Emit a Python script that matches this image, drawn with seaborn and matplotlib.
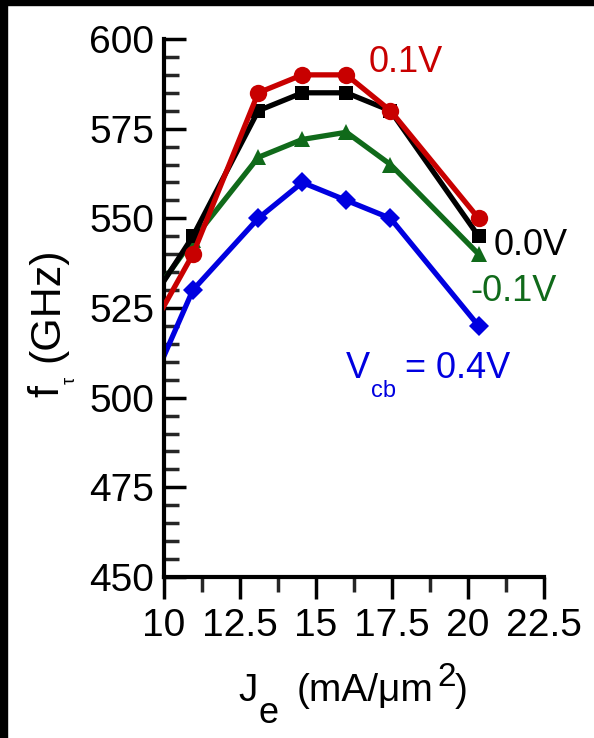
import matplotlib
matplotlib.use("Agg")
import matplotlib.pyplot as plt
import seaborn as sns
from matplotlib.ticker import MultipleLocator
from matplotlib.patches import Rectangle

# ---- data ----
je = [9.5, 10.95, 13.1, 14.55, 16.0, 17.45, 20.35]          # J_e (mA/um^2)
ft_p01 = [518, 540, 585, 590, 590, 580, 550]                 # Vcb = 0.1 V
ft_000 = [526, 545, 580, 585, 585, 580, 545]                 # Vcb = 0.0 V
ft_m01 = [527, 544, 567, 572, 574, 565, 540]                 # Vcb = -0.1 V
ft_p04 = [502, 530, 550, 560, 555, 550, 520]                 # Vcb = 0.4 V
series_names = ["0.1V", "0.0V", "-0.1V", "= 0.4V"]
xtick_vals = [10, 12.5, 15, 17.5, 20, 22.5]
xtick_labels = ["10", "12.5", "15", "17.5", "20", "22.5"]
ytick_vals = [450, 475, 500, 525, 550, 575, 600]
ytick_labels = ["450", "475", "500", "525", "550", "575", "600"]

sns.set_theme(style="white")
plt.rcParams["font.family"] = ["Liberation Sans", "DejaVu Sans"]

W, H = 594, 738
fig = plt.figure(figsize=(W / 100, H / 100), dpi=100, facecolor="white")
ax = fig.add_axes([164 / W, 1 - 577 / H, 380 / W, 538 / H])
ax.set_facecolor("white")


def P(x, y):
    """pixel position (from top-left) -> figure fraction"""
    return x / W, 1 - y / H


RED = "#C80000"
BLACK = "#000000"
GREEN = "#106A1A"
BLUE = "#0000E0"

specs = [
    (ft_p04, BLUE, "D", 10.5, 2),
    (ft_m01, GREEN, "^", 11.5, 3),
    (ft_000, BLACK, "s", 9.5, 4),
    (ft_p01, RED, "o", 12.5, 5),
]
for vals, col, mk, ms, z in specs:
    sns.lineplot(x=je, y=vals, ax=ax, color=col, marker=mk, markersize=ms,
                 markeredgewidth=0, linewidth=3.8, sort=False, legend=False,
                 zorder=z)

ax.set_xlim(10, 22.5)
ax.set_ylim(450, 600)
ax.set_xticks(xtick_vals)
ax.set_xticklabels(xtick_labels)
ax.set_yticks(ytick_vals)
ax.set_yticklabels(ytick_labels)
ax.xaxis.set_minor_locator(MultipleLocator(1.25))
ax.yaxis.set_minor_locator(MultipleLocator(5))

for s in ["top", "right"]:
    ax.spines[s].set_visible(False)
for s in ["left", "bottom"]:
    ax.spines[s].set_linewidth(3)
    ax.spines[s].set_color("black")

ax.tick_params(axis="y", which="major", direction="in", length=16, width=2.5,
               labelsize=28, pad=7, colors="black", left=True)
ax.tick_params(axis="y", which="minor", direction="in", length=11, width=2.5,
               left=True)
ax.tick_params(axis="x", which="major", direction="out", length=16, width=2.5,
               labelsize=28, pad=6, colors="black", bottom=True)
ax.tick_params(axis="x", which="minor", direction="out", length=11, width=2.5,
               bottom=True)
ax.grid(False)

# series annotations
fig.text(*P(369, 71.5), series_names[0], color=RED, fontsize=26, ha="left", va="baseline")
fig.text(*P(494, 255), series_names[1], color=BLACK, fontsize=26, ha="left", va="baseline")
fig.text(*P(470, 301.5), series_names[2], color=GREEN, fontsize=26, ha="left", va="baseline")
fig.text(*P(346, 378.5), "V", color=BLUE, fontsize=26, ha="left", va="baseline")
fig.text(*P(371, 397), "cb", color=BLUE, fontsize=17, ha="left", va="baseline")
fig.text(*P(405, 378.5), series_names[3], color=BLUE, fontsize=26, ha="left", va="baseline")

# x axis label  J_e (mA/um^2)
xl_fs = 28
fig.text(*P(238, 701), "J", fontsize=xl_fs, ha="left", va="baseline", color="black")
fig.text(*P(268, 723), "e", fontsize=xl_fs - 2, ha="center", va="baseline", color="black")
fig.text(*P(365, 701), "(mA/\u03bcm", fontsize=xl_fs, ha="center", va="baseline", color="black")
fig.text(*P(447, 686), "2", fontsize=xl_fs - 4, ha="center", va="baseline", color="black")
fig.text(*P(461, 701), ")", fontsize=xl_fs, ha="center", va="baseline", color="black")

# y axis label  f_tau (GHz)
fig.text(*P(58, 397), "f", fontsize=31, rotation=90, rotation_mode="anchor",
         ha="left", va="baseline", color="black")
fig.text(*P(75, 384), "\u03c4", fontsize=13, rotation=90, rotation_mode="anchor",
         ha="left", va="baseline", color="black")
fig.text(*P(58, 362), "(GHz)", fontsize=31, rotation=90, rotation_mode="anchor",
         ha="left", va="baseline", color="black")

# black frame on the left and top edges
fig.patches.append(Rectangle((0, 0), 7 / W, 1, transform=fig.transFigure,
                             color="black", zorder=10))
fig.patches.append(Rectangle((0, 1 - 5 / H), 1, 5 / H, transform=fig.transFigure,
                             color="black", zorder=10))

fig.savefig("out.png", dpi=100, facecolor="white")
